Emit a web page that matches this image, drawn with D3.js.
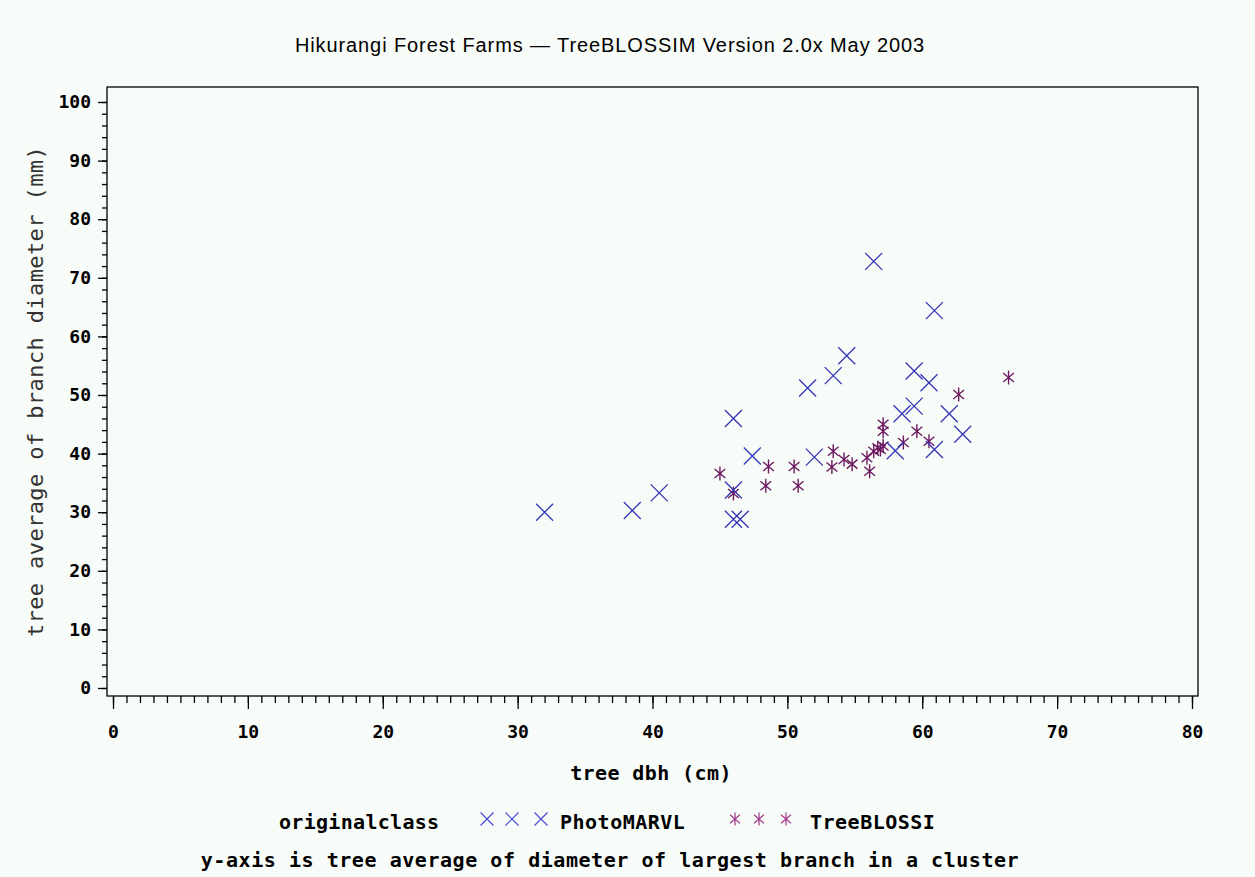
<!DOCTYPE html>
<html>
<head>
<meta charset="utf-8">
<script src="https://cdn.jsdelivr.net/npm/d3@7"></script>
<style>
  body { margin:0; background:#f8fcf8; }
  svg { display:block; }
  .mono { font-family:"DejaVu Sans Mono", monospace; font-weight:bold; }
</style>
</head>
<body>
<div id="chart"></div>
<script>
// =====================================================================
// data
var photoDbh    = [32.0, 38.5, 40.5, 46.0, 46.0, 46.0, 46.5, 47.4, 51.5, 52.0, 53.4,
                   54.4, 56.4, 60.9, 59.4, 60.5, 59.4, 58.5, 62.0, 63.0, 60.9, 58.0];
var photoBranch = [30.0, 30.3, 33.3, 46.0, 33.8, 28.8, 28.8, 39.6, 51.2, 39.4, 53.3,
                   56.7, 72.8, 64.4, 54.1, 52.1, 48.1, 46.8, 46.8, 43.3, 40.7, 40.5];
var blossDbh    = [45.0, 46.0, 48.6, 48.4, 50.5, 50.8, 53.4, 53.3, 54.2, 54.8, 55.9, 56.1,
                   56.4, 56.7, 56.9, 57.1, 57.1, 57.1, 58.6, 59.6, 60.5, 62.7, 66.4];
var blossBranch = [36.6, 33.2, 37.8, 34.5, 37.8, 34.5, 40.4, 37.7, 39.0, 38.2, 39.3, 37.0,
                   40.4, 41.0, 40.7, 41.3, 45.0, 43.8, 41.9, 43.8, 42.1, 50.1, 53.0];
var xTicks = [0, 10, 20, 30, 40, 50, 60, 70, 80];
var yTicks = [0, 10, 20, 30, 40, 50, 60, 70, 80, 90, 100];
var seriesNames = ["PhotoMARVL", "TreeBLOSSI"];

// =====================================================================
var size = { width:1255, height:877 };
var frame = { left:107, right:1198, top:87, bottom:696 };
var pageCenter = 610;

var svg = d3.select("#chart").append("svg")
    .attr("width", size.width).attr("height", size.height);

var x = d3.scaleLinear().domain([0, 80]).range([113, 1192]);
var y = d3.scaleLinear().domain([0, 100]).range([688, 102]);

// title
svg.append("text")
    .attr("x", pageCenter).attr("y", 52)
    .attr("text-anchor", "middle")
    .style("font-family", "'Liberation Sans', Arial, sans-serif")
    .style("font-size", "20px").style("letter-spacing", "0.9px")
    .text("Hikurangi Forest Farms \u2014 TreeBLOSSIM Version 2.0x May 2003");

// frame
svg.append("rect")
    .attr("x", frame.left).attr("y", frame.top)
    .attr("width", frame.right - frame.left).attr("height", frame.bottom - frame.top)
    .attr("fill", "none").attr("stroke", "#000").attr("stroke-width", 1.3);

// y axis: minor then major
var gyMinor = svg.append("g").attr("transform", "translate(" + frame.left + ",0)")
    .call(d3.axisLeft(y).tickValues(d3.range(0, 101, 2)).tickSize(5).tickFormat(""));
var gy = svg.append("g").attr("transform", "translate(" + frame.left + ",0)")
    .call(d3.axisLeft(y).tickValues(yTicks).tickSize(9).tickPadding(7));

// x axis
var gxMinor = svg.append("g").attr("transform", "translate(0," + frame.bottom + ")")
    .call(d3.axisBottom(x).tickValues(d3.range(0, 81, 1)).tickSize(7).tickFormat(""));
var gx = svg.append("g").attr("transform", "translate(0," + frame.bottom + ")")
    .call(d3.axisBottom(x).tickValues(xTicks).tickSize(13).tickPadding(0));

[gyMinor, gy, gxMinor, gx].forEach(function(g){
    g.select(".domain").remove();
    g.selectAll(".tick line").attr("stroke", "#000").attr("stroke-width", 1.3);
});
gy.selectAll("text").attr("class", "mono").style("font-size", "18px").attr("fill", "#000");
gx.selectAll("text").attr("class", "mono").style("font-size", "18px").attr("fill", "#000")
    .attr("y", 42).attr("dy", 0);

// axis labels
svg.append("text").attr("class", "mono")
    .attr("x", 651).attr("y", 780).attr("text-anchor", "middle")
    .style("font-size", "20px").style("letter-spacing", "0.4px")
    .text("tree dbh (cm)");

svg.append("text")
    .attr("transform", "translate(43," + ((frame.top + frame.bottom) / 2) + ") rotate(-90)")
    .attr("text-anchor", "middle")
    .style("font-family", "'DejaVu Sans Mono', monospace")
    .style("font-size", "22px").style("letter-spacing", "0.4px").attr("fill", "#333")
    .text("tree average of branch diameter (mm)");

// marker shapes
function crossPath(r) {
    return "M" + (-r) + "," + (-r) + "L" + r + "," + r + "M" + (-r) + "," + r + "L" + r + "," + (-r);
}
function starPath(r) {
    var a = r * Math.cos(Math.PI / 4.5), b = r * Math.sin(Math.PI / 4.5);
    return "M0," + (-r) + "L0," + r +
        "M" + (-a) + "," + (-b) + "L" + a + "," + b +
        "M" + (-a) + "," + b + "L" + a + "," + (-b);
}

var photoPts = photoDbh.map(function(d, i){ return { x:d, y:photoBranch[i] }; });
var blossPts = blossDbh.map(function(d, i){ return { x:d, y:blossBranch[i] }; });

svg.append("g").selectAll("path")
    .data(blossPts).enter().append("path")
    .attr("transform", function(d){ return "translate(" + x(d.x) + "," + y(d.y) + ")"; })
    .attr("d", starPath(7))
    .attr("fill", "none").attr("stroke", "#6e1a62").attr("stroke-width", 1.4);

svg.append("g").selectAll("path")
    .data(photoPts).enter().append("path")
    .attr("transform", function(d){ return "translate(" + x(d.x) + "," + y(d.y) + ")"; })
    .attr("d", crossPath(8.5))
    .attr("fill", "none").attr("stroke", "#3434b8").attr("stroke-width", 1.3);

// legend
var legY = 829;
svg.append("text").attr("class", "mono")
    .attr("x", 279).attr("y", legY)
    .style("font-size", "20px").style("letter-spacing", "0.3px")
    .text("originalclass");

var legend = [
    { name:seriesNames[0], marks:[487, 512, 541], text:560, path:crossPath(6.5), color:"#4a4ad8" },
    { name:seriesNames[1], marks:[735, 759, 786], text:810, path:starPath(6.5), color:"#a43a8c" }
];
var lg = svg.selectAll(".legend").data(legend).enter().append("g").attr("class", "legend");
lg.each(function(d){
    var g = d3.select(this);
    g.selectAll("path").data(d.marks).enter().append("path")
        .attr("transform", function(m){ return "translate(" + m + "," + (legY - 10) + ")"; })
        .attr("d", d.path)
        .attr("fill", "none").attr("stroke", d.color).attr("stroke-width", 1.2);
    g.append("text").attr("class", "mono")
        .attr("x", d.text).attr("y", legY)
        .style("font-size", "20px").style("letter-spacing", "0.5px")
        .text(d.name);
});

// footnote
svg.append("text").attr("class", "mono")
    .attr("x", pageCenter).attr("y", 867).attr("text-anchor", "middle")
    .style("font-size", "20px").style("letter-spacing", "0.55px")
    .text("y-axis is tree average of diameter of largest branch in a cluster");
</script>
</body>
</html>
